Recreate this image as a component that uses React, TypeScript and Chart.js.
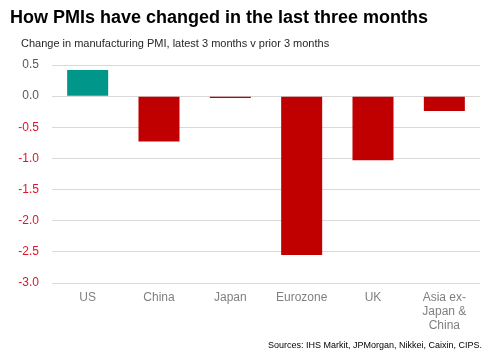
import React, { useEffect, useRef } from "react";
import { Chart, registerables } from "chart.js";

Chart.register(...registerables);

const categories: (string | string[])[] = ["US", "China", "Japan", "Eurozone", "UK", ["Asia ex-", "Japan &", "China"]];
const changes = [0.42, -0.73, -0.03, -2.55, -1.03, -0.24];
const yTicks = [0.5, 0, -0.5, -1, -1.5, -2, -2.5, -3];
const titleText = "How PMIs have changed in the last three months";
const subtitleText = "Change in manufacturing PMI, latest 3 months v prior 3 months";
const sourceText = "Sources: IHS Markit, JPMorgan, Nikkei, Caixin, CIPS.";

const FONT = "'Liberation Sans', Arial, sans-serif";

const textPlugin = {
  id: "texts",
  afterDraw(chart: any) {
    const ctx = chart.ctx;
    ctx.save();
    ctx.textBaseline = "alphabetic";
    ctx.fillStyle = "#000000";
    ctx.textAlign = "left";
    ctx.font = `bold 18px ${FONT}`;
    ctx.fillText(titleText, 10, 23);
    ctx.fillStyle = "#262626";
    ctx.font = `11px ${FONT}`;
    ctx.fillText(subtitleText, 21, 47);
    ctx.fillStyle = "#000000";
    ctx.font = `9px ${FONT}`;
    ctx.textAlign = "right";
    ctx.fillText(sourceText, 482, 348);
    ctx.restore();
  },
};

export default function App() {
  const ref = useRef<HTMLCanvasElement>(null);
  useEffect(() => {
    if (!ref.current) return;
    const chart = new Chart(ref.current, {
      type: "bar",
      data: {
        labels: categories as any,
        datasets: [
          {
            data: changes,
            backgroundColor: changes.map((v) => (v >= 0 ? "#00968a" : "#c00000")),
            barPercentage: 0.575,
            categoryPercentage: 1,
          },
        ],
      },
      options: {
        animation: false,
        responsive: false,
        maintainAspectRatio: false,
        layout: { padding: { top: 65, right: 17, bottom: 0, left: 0 } },
        plugins: {
          legend: { display: false },
          title: { display: false },
          tooltip: { enabled: false },
        },
        scales: {
          x: {
            grid: { display: false, drawTicks: false },
            border: { display: false },
            ticks: {
              color: "#808080",
              font: { family: FONT, size: 12, lineHeight: 1.17 },
              padding: 8,
              maxRotation: 0,
              autoSkip: false,
            },
            afterFit: (s: any) => {
              s.height = 78;
            },
          },
          y: {
            min: -3,
            max: 0.5,
            afterBuildTicks: (s: any) => {
              s.ticks = yTicks.map((v) => ({ value: v }));
            },
            grid: { color: "#d9d9d9", drawTicks: false, lineWidth: 1 },
            border: { display: false },
            ticks: {
              color: (c: any) => (c.tick && c.tick.value < 0 ? "#e0142c" : "#595959"),
              font: { family: FONT, size: 12 },
              padding: 13,
              callback: (v: any) => Number(v).toFixed(1),
            },
            afterFit: (s: any) => {
              s.width = 52;
            },
          },
        },
      },
      plugins: [textPlugin],
    });
    return () => chart.destroy();
  }, []);
  return (
    <div style={{ position: "absolute", left: 0, top: 0, width: 497, height: 361, background: "#fff" }}>
      <canvas ref={ref} width={497} height={361} style={{ width: 497, height: 361 }} />
    </div>
  );
}
